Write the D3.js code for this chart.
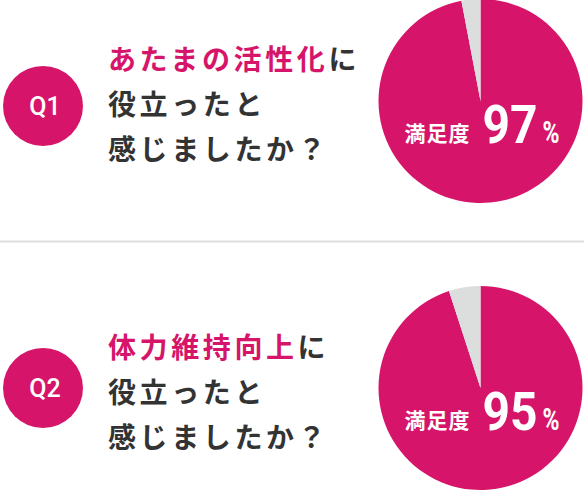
<!DOCTYPE html>
<html>
<head>
<meta charset="utf-8">
<script src="https://cdn.jsdelivr.net/npm/d3@7"></script>
<style>
  html, body { margin: 0; padding: 0; background: #fff; }
  svg { display: block; }
  .q { font-family: Roboto, sans-serif; font-weight: 500; font-size: 25px; fill: #fff; }
  .title { font-family: "Noto Sans CJK JP", sans-serif; font-weight: 700; font-size: 28px; letter-spacing: 3.6px; fill: #333; }
  .hl { fill: #d6156a; }
  .lbl { font-family: "Noto Sans CJK JP", sans-serif; font-weight: 700; font-size: 21px; letter-spacing: 1px; fill: #fff; }
  .num { font-family: Roboto, sans-serif; font-weight: 700; font-size: 54px; fill: #fff; }
  .pct { font-family: Roboto, sans-serif; font-weight: 700; font-size: 32px; fill: #fff; }
</style>
</head>
<body>
<svg id="chart"></svg>
<script>
// data
var questions = ['Q1', 'Q2']
var highlights = ['あたまの活性化', '体力維持向上']
var restLine1 = ['に', 'に']
var restLines = ['役立ったと', '感じましたか？']
var satisfied = [97, 95]
var labelText = '満足度'

var pink = '#d6156a', grey = '#dcdddd'
var width = 584, height = 490
var centers = [101, 388]

var svg = d3.select('#chart').attr('width', width).attr('height', height)

svg.append('line')
  .attr('x1', 0).attr('x2', width)
  .attr('y1', 241.5).attr('y2', 241.5)
  .attr('stroke', '#dddddd').attr('stroke-width', 2)

var pie = d3.pie().sort(null).value(d => d)
var arc = d3.arc().innerRadius(0).outerRadius(102)

questions.forEach(function (q, i) {
  var cy = centers[i]
  var by = cy + (i == 0 ? 5 : 0)
  var g = svg.append('g')

  // Q badge
  g.append('circle').attr('cx', 43).attr('cy', by).attr('r', 40).attr('fill', pink)
  g.append('text').attr('class', 'q')
    .attr('x', 45).attr('y', by + 9)
    .attr('text-anchor', 'middle').text(q)

  // question text
  var ty = cy - 31 + (i == 0 ? 0 : 1)
  var t1 = g.append('text').attr('class', 'title').attr('x', 108).attr('y', ty)
  t1.append('tspan').attr('class', 'hl').text(highlights[i])
  t1.append('tspan').text(restLine1[i])
  restLines.forEach(function (s, j) {
    g.append('text').attr('class', 'title').attr('x', 108).attr('y', ty + 45 * (j + 1)).text(s)
  })

  // pie
  var pg = g.append('g').attr('transform', 'translate(480.5,' + cy + ')')
  pg.selectAll('path')
    .data(pie([satisfied[i], 100 - satisfied[i]]))
    .join('path')
    .attr('d', arc)
    .attr('fill', (d, k) => k == 0 ? pink : grey)

  pg.append('text').attr('class', 'lbl').attr('x', -76).attr('y', 40).text(labelText)
  pg.append('text').attr('class', 'num').attr('x', 2).attr('y', 42)
    .attr('textLength', 55).attr('lengthAdjust', 'spacingAndGlyphs').text(satisfied[i])
  pg.append('text').attr('class', 'pct').attr('x', 62).attr('y', 42)
    .attr('textLength', 17).attr('lengthAdjust', 'spacingAndGlyphs').text('%')
})
</script>
</body>
</html>
